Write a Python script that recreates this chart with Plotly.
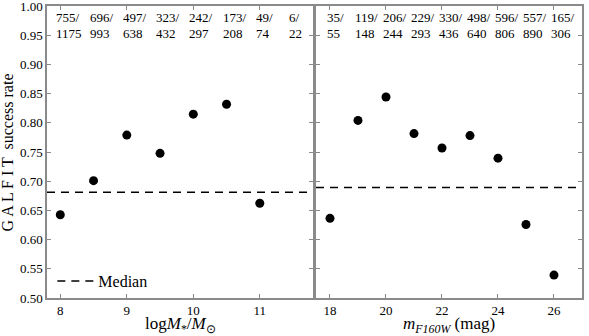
import plotly.graph_objects as go

# Left panel: stellar mass bins
mass_bins = [8.0, 8.5, 9.0, 9.5, 10.0, 10.5, 11.0, 11.5]
mass_success = [755, 696, 497, 323, 242, 173, 49, 6]
mass_total = [1175, 993, 638, 432, 297, 208, 74, 22]
mass_median = 0.681

# Right panel: magnitude bins
mag_bins = [18, 19, 20, 21, 22, 23, 24, 25, 26]
mag_success = [35, 119, 206, 229, 330, 498, 596, 557, 165]
mag_total = [55, 148, 244, 293, 436, 640, 806, 890, 306]
mag_median = 0.689

mass_rate = [s / t for s, t in zip(mass_success, mass_total)]
mag_rate = [s / t for s, t in zip(mag_success, mag_total)]

FONT = "Liberation Serif"
FRAME = "#8a8a8a"
DASH = "8px,6px"

fig = go.Figure()

fig.add_trace(go.Scatter(x=mass_bins, y=mass_rate, mode="markers",
                         marker=dict(color="black", size=9), xaxis="x", yaxis="y",
                         showlegend=False))
fig.add_trace(go.Scatter(x=[7.8, 11.8], y=[mass_median, mass_median], mode="lines",
                         line=dict(color="black", width=1.5, dash=DASH),
                         xaxis="x", yaxis="y", name="Median", showlegend=True))
fig.add_trace(go.Scatter(x=mag_bins, y=mag_rate, mode="markers",
                         marker=dict(color="black", size=9), xaxis="x2", yaxis="y2",
                         showlegend=False))
fig.add_trace(go.Scatter(x=[17.5, 27.0], y=[mag_median, mag_median], mode="lines",
                         line=dict(color="black", width=1.5, dash=DASH),
                         xaxis="x2", yaxis="y2", showlegend=False))

annotations = []
for xb, s, t in zip(mass_bins, mass_success, mass_total):
    annotations.append(dict(x=xb, y=0.981, xref="x", yref="y", text=f"{s}/",
                            showarrow=False, xanchor="left", yanchor="middle", xshift=-6,
                            font=dict(family=FONT, size=13, color="black")))
    annotations.append(dict(x=xb, y=0.953, xref="x", yref="y", text=f"{t}",
                            showarrow=False, xanchor="left", yanchor="middle", xshift=-6,
                            font=dict(family=FONT, size=13, color="black")))
for xb, s, t in zip(mag_bins, mag_success, mag_total):
    annotations.append(dict(x=xb, y=0.981, xref="x2", yref="y2", text=f"{s}/",
                            showarrow=False, xanchor="left", yanchor="middle", xshift=-5,
                            font=dict(family=FONT, size=13, color="black")))
    annotations.append(dict(x=xb, y=0.953, xref="x2", yref="y2", text=f"{t}",
                            showarrow=False, xanchor="left", yanchor="middle", xshift=-5,
                            font=dict(family=FONT, size=13, color="black")))

# axis titles as paper annotations (precise placement)
annotations.append(dict(x=0.2486, y=-0.092, xref="paper", yref="paper",
                        text="log<i>M</i><sub>*</sub>/<i>M</i><sub>⊙</sub>",
                        showarrow=False, xanchor="center", yanchor="middle",
                        font=dict(family=FONT, size=17, color="black")))
annotations.append(dict(x=0.7514, y=-0.092, xref="paper", yref="paper",
                        text="<i>m</i><sub><i>F160W</i></sub> (mag)",
                        showarrow=False, xanchor="center", yanchor="middle",
                        font=dict(family=FONT, size=17, color="black")))
annotations.append(dict(x=-0.074, y=0.5, xref="paper", yref="paper",
                        text="G A L F I T  success rate", textangle=-90,
                        showarrow=False, xanchor="center", yanchor="middle",
                        font=dict(family=FONT, size=16, color="black")))

axis_common = dict(showline=True, linecolor=FRAME, linewidth=1.5, mirror="ticks",
                   ticks="inside", ticklen=4, tickwidth=1, tickcolor=FRAME,
                   showgrid=False, zeroline=False, automargin=False,
                   ticklabeloverflow="allow",
                   tickfont=dict(family=FONT, size=13, color="black"))

yticks = [0.50, 0.55, 0.60, 0.65, 0.70, 0.75, 0.80, 0.85, 0.90, 0.95, 1.00]

fig.update_layout(
    width=589, height=336,
    margin=dict(l=47, r=7, t=6, b=38),
    paper_bgcolor="white", plot_bgcolor="white",
    font=dict(family=FONT, size=13, color="black"),
    xaxis=dict(domain=[0, 0.4972], range=[7.8, 11.8], tickvals=[8, 9, 10, 11],
               **axis_common),
    yaxis=dict(range=[0.5, 1.0], tickvals=yticks, tickformat=".2f",
               **axis_common),
    xaxis2=dict(domain=[0.5028, 1], range=[17.5, 27.0], tickvals=[18, 20, 22, 24, 26],
                anchor="y2", **axis_common),
    yaxis2=dict(range=[0.5, 1.0], tickvals=yticks, anchor="x2", showticklabels=False,
                **axis_common),
    legend=dict(x=0.01, y=0.0, xanchor="left", yanchor="bottom",
                bgcolor="rgba(0,0,0,0)", font=dict(family=FONT, size=16),
                itemwidth=36),
    annotations=annotations,
)

fig.write_html("out.html", config={"displayModeBar": False},
               post_script="document.body.style.margin='0';document.body.style.overflow='hidden';")
